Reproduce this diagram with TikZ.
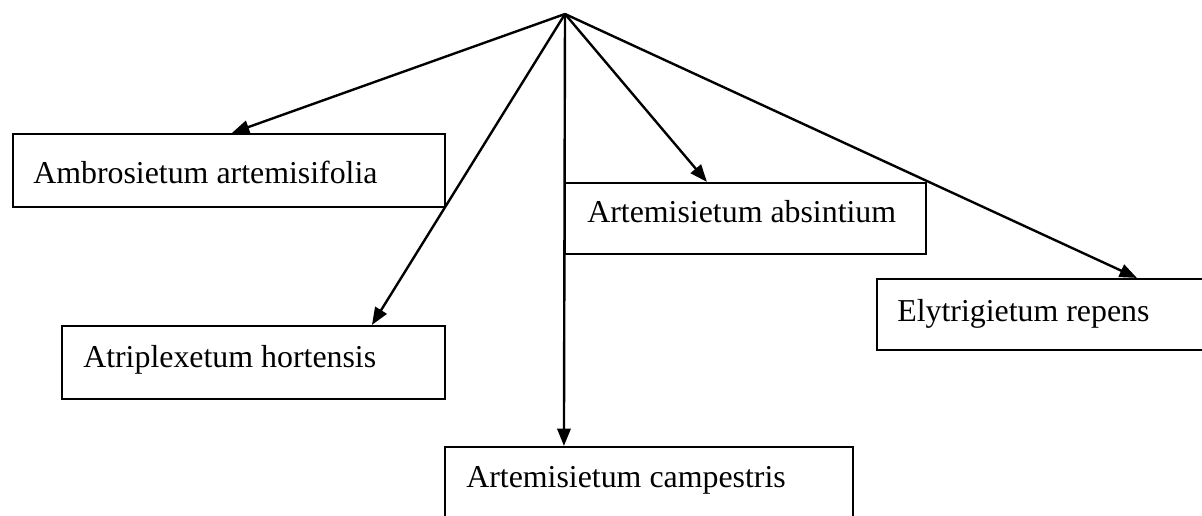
\documentclass[tikz,border=0pt]{standalone}
\usepackage{fontspec}
\setmainfont{Liberation Serif}
\usetikzlibrary{arrows.meta,fit}
\begin{document}
\begin{tikzpicture}[x=0.75pt,y=-0.75pt,
  box/.style={draw,line width=1.6pt,inner sep=0pt,rectangle},
  lbl/.style={inner sep=0pt,anchor=base west,font=\fontsize{23.9}{28}\selectfont},
  arr/.style={line width=1.8pt,-{Triangle[length=13pt,width=10pt]}}]
\useasboundingbox (0,0) rectangle (1202,516);
\clip (0,0) rectangle (1202,516);
\coordinate (apex) at (565,14);
\node[box,fit={(13,134)(445,207)}] (amb) {};
\node[box,fit={(565,183)(926,254)}] (abs) {};
\node[box,fit={(877,279)(1220,350)}] (ely) {};
\node[box,fit={(62,326)(445,399)}] (atr) {};
\node[box,fit={(445,447)(853,540)}] (cam) {};
\node[lbl] (tamb) at (33,184) {Ambrosietum artemisifolia};
\node[lbl] (tabs) at (587,223) {Artemisietum absintium};
\node[lbl] (tely) at (897,322) {Elytrigietum repens};
\node[lbl] (tatr) at (83,368) {Atriplexetum hortensis};
\node[lbl] (tcam) at (466,487) {Artemisietum campestris};
\draw[arr] (apex) -- ([xshift=165pt]amb.north west);
\draw[arr] (apex) -- ([xshift=233.25pt]atr.north west);
\draw[arr] (apex) -- ([xshift=90pt]cam.north west);
\draw[arr] (apex) -- ([xshift=107.25pt]abs.north west);
\draw[arr] (apex) -- ([xshift=195.75pt]ely.north west);
\end{tikzpicture}
\end{document}
